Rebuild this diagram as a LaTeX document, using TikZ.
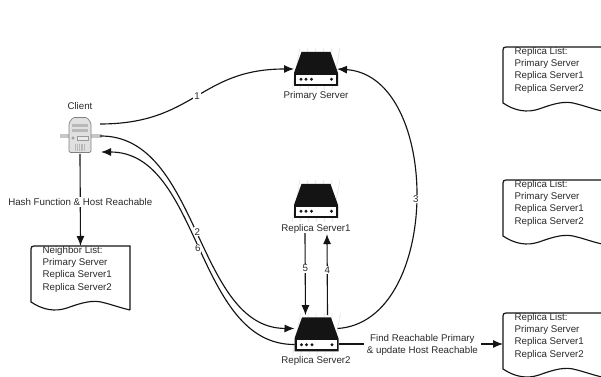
\documentclass[tikz,border=0pt]{standalone}
\usepackage{fontspec}
\setmainfont{Liberation Sans}
\usetikzlibrary{arrows.meta,calc}
\definecolor{ink}{HTML}{141414}
\definecolor{txt}{HTML}{2A2A2A}
\tikzset{
  x=0.75pt,y=-0.75pt,
  conn/.style={draw=ink,line width=0.85pt},
  arr/.style={conn,-{Latex[length=7.5pt,width=6pt]}},
  lab/.style={font=\fontsize{7.3}{9.2}\selectfont,text=txt,inner sep=1pt},
  edgelab/.style={lab,fill=white,inner ysep=0.6pt,inner xsep=0.6pt},
  srvnode/.style={minimum width=33pt,minimum height=26pt,inner sep=0pt,outer sep=0pt},
  clientnode/.style={minimum width=30pt,minimum height=27pt,inner sep=0pt,outer sep=0pt},
  docnode/.style={minimum width=74.25pt,minimum height=46.5pt,inner sep=0pt,outer sep=0pt},
  doctext/.style={lab,align=left,anchor=north west,font=\fontsize{7.3}{9.25}\selectfont},
}
\newcommand{\servericon}[3]{%
  \node[srvnode] (#1) at (#2,#3) {};
  \begin{scope}[shift={(#2,#3)}]
    \begin{scope}
      \clip (-24,-21) rectangle (24,21);
      \foreach \i in {-20,-12,...,20}
        \draw[black!10,line width=0.5pt] (\i-4,21)--(\i+4,-21);
    \end{scope}
    \fill[ink] (-14.5,-17)--(14.5,-17)--(22,4)--(22,17)--(-22,17)--(-22,4)--cycle;
    \fill[white] (-20,6) rectangle (20,15);
    \foreach \i in {-15,-10,-4.5,15.5}
      \fill[ink] (\i,10.3) circle (1.7);
  \end{scope}}
\newcommand{\docshape}[4]{%
  \node[docnode,anchor=north west] (#1) at (#2,#3) {};
  \draw[conn,shift={(#2,#3)}] (99,64)--(99,0)--(3,0) .. controls (1,0) and (0,1) .. (0,3)--(0,56)
     .. controls (12,64) and (24,66) .. (36,62) .. controls (50,57) and (62,53) .. (74,57)
     .. controls (82,59) and (90,62) .. (99,64);
  \node[doctext] (#1t) at ($(#2,#3)+(10,-1.5)$) {#4};}
\begin{document}
\begin{tikzpicture}
\clip (0,0) rectangle (601,377);
\fill[white] (0,0) rectangle (601,377);

% client
\node[clientnode] (client) at (80,136) {};
\fill[black!22] (60,134.5) rectangle (102,138.5);
\begin{scope}[shift={(80,135)}]
  \draw[black!50,fill=black!12,line width=0.5pt,rounded corners=1pt] (-11,-12)--(-7,-17.5)--(7,-17.5)--(11,-12)--(11,17.5)--(-11,17.5)--cycle;
  \fill[black!28] (-8,-11) rectangle (8,-7.5);
  \fill[black!28] (-8,-6) rectangle (8,-2.5);
  \draw[black!40,fill=black!8,line width=0.4pt] (-3,1) rectangle (8,5);
  \draw[black!45,line width=0.4pt] (-7,3) circle (1.3);
  \foreach \i in {-4.5,-2.7,...,5}
    \draw[black!28,line width=0.4pt] (\i,9)--(\i,16);
\end{scope}
\node[lab] (clientlab) at (80,106) {Client};

% servers
\servericon{ps}{316}{69}
\node[lab] (pslab) at (316,96) {Primary Server};
\servericon{r1}{316}{201}
\node[lab] (r1lab) at (316,229) {Replica Server1};
\servericon{r2}{316.5}{334.5}
\node[lab] (r2lab) at (316,361) {Replica Server2};

% documents
\docshape{nl}{31}{246}{Neighbor List:\\Primary Server\\Replica Server1\\Replica Server2}
\docshape{ra}{503}{47}{Replica List:\\Primary Server\\Replica Server1\\Replica Server2}
\docshape{rb}{503}{180}{Replica List:\\Primary Server\\Replica Server1\\Replica Server2}
\docshape{rc}{503}{313}{Replica List:\\Primary Server\\Replica Server1\\Replica Server2}

% connectors
\draw[arr] ($(client.east)+(0,-12)$) .. controls (195,124) and (199,69) .. (ps.west)
   node[edgelab,pos=0.5] {1};
\draw[arr] (client.east) .. controls (200,135) and (195,328) .. ($(r2.west)+(0,-6)$)
   node[edgelab,pos=0.5] {2};
\draw[arr] ($(r2.west)+(0,10)$) .. controls (195,345) and (201,152) .. ($(client.east)+(1,16)$)
   node[edgelab,pos=0.5] {6};
\draw[arr] ($(r2.east)+(-1,-6)$) .. controls (442,322) and (442,76) .. ($(ps.east)+(-1,0)$)
   node[edgelab,pos=0.5] {3};
\draw[arr] ($(r1lab.south)+(-11,-2)$) -- ($(r2.north)+(-11,-2)$) node[edgelab,pos=0.43] {5};
\draw[arr] ($(r2.north)+(11,-2)$) -- ($(r1lab.south)+(11,-1)$) node[edgelab,pos=0.56] {4};
\draw[arr] (client.south) -- (nl.north)
   node[edgelab,pos=0.5,inner ysep=1pt,yshift=-1.5pt] {Hash Function \& Host Reachable};
\draw[arr] (r2.east |- rc.west) -- (rc.west)
   node[edgelab,pos=0.51,align=center,inner xsep=2pt,yshift=-0.75pt] {Find Reachable Primary\\\& update Host Reachable};
\end{tikzpicture}
\end{document}
